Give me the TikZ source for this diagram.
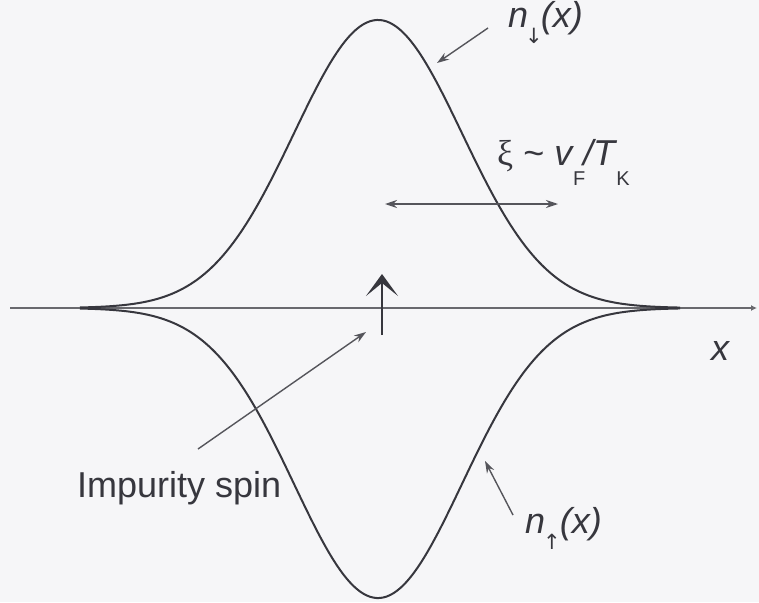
\documentclass[tikz,border=0pt]{standalone}
\usepackage{fontspec}
\setmainfont{Liberation Sans}
\newfontfamily\symfont{DejaVu Sans}
\newfontfamily\grkfont{Liberation Serif}
\usetikzlibrary{arrows.meta}
\definecolor{ink}{RGB}{55,55,62}
\definecolor{bg}{RGB}{246,246,248}
\begin{document}
\begin{tikzpicture}[x=1pt,y=-1pt,
  curve/.style={draw=ink, line width=2pt},
  pointer/.style={draw=ink!85, line width=1.4pt, -{Stealth[length=12pt,width=8pt]}},
  lbl/.style={text=ink, font=\fontsize{36}{40}\selectfont, inner sep=0pt, anchor=base west}]
\fill[bg] (0,0) rectangle (759,602);
\useasboundingbox (0,0) rectangle (759,602);
% axis
\coordinate (axL) at (10,308);
\coordinate (axR) at (757,308);
\draw[ink!75, line width=1.2pt, -{Latex[length=6pt,width=6pt]}] (axL) -- (axR);
% densities
\draw[curve] plot[domain=80:680, samples=181, smooth] (\x,{308-288*exp(-0.5*((\x-378)/84)*((\x-378)/84))});
\draw[curve] plot[domain=80:680, samples=181, smooth] (\x,{308+290*exp(-0.5*((\x-378)/84)*((\x-378)/84))});
% impurity spin arrow
\coordinate (spinB) at (382,335);
\coordinate (spinT) at (382,274);
\draw[ink, line width=2pt, -{Stealth[length=22pt,width=32pt,inset=13pt]}] (spinB) -- (spinT);
% width arrow
\coordinate (wL) at (385,204);
\coordinate (wR) at (558,204);
\draw[ink!85, line width=1.4pt, {Stealth[length=12pt,width=8pt]}-{Stealth[length=12pt,width=8pt]}] (wL) -- (wR);
% labels
\node[lbl] (ndown) at (508,28) {\textit{n}\kern-3pt\raisebox{-16pt}{\symfont\fontsize{21}{21}\selectfont ↓}\kern-2pt\textit{(x)}};
\node[lbl] (xi) at (497,165) {{\grkfont ξ} \textasciitilde{} \textit{v}\kern-1pt\raisebox{-20pt}{\fontsize{20}{20}\selectfont F}\kern-2pt\textit{/T}\kern-1pt\raisebox{-20pt}{\fontsize{20}{20}\selectfont K}};
\node[lbl] (imp) at (77,497) {Impurity spin};
\node[lbl] (nup) at (525,533) {\textit{n}\kern-2pt\raisebox{-16pt}{\symfont\fontsize{21}{21}\selectfont ↑}\kern-1pt\textit{(x)}};
\node[lbl] (xlab) at (711,360) {\textit{x}};
% pointers
\coordinate (pdS) at (488,28);
\coordinate (pdE) at (437,63);
\draw[pointer] (pdS) -- (pdE);
\coordinate (puS) at (513,515);
\coordinate (puE) at (485,461);
\draw[pointer] (puS) -- (puE);
\coordinate (piS) at (198,449);
\coordinate (piE) at (366,332);
\draw[pointer] (piS) -- (piE);
\end{tikzpicture}
\end{document}
